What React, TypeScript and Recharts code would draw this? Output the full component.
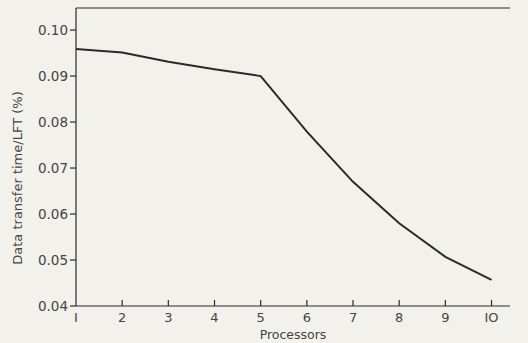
import { LineChart, Line, XAxis, YAxis, ReferenceLine } from "recharts";

const processors = [1, 2, 3, 4, 5, 6, 7, 8, 9, 10];
const transferTime = [0.0959, 0.0951, 0.0931, 0.0915, 0.09, 0.0779, 0.067, 0.058, 0.0507, 0.0457];
const yTicks = [0.04, 0.05, 0.06, 0.07, 0.08, 0.09, 0.1];
const yTop = 0.1048;

const data = processors.map((p, i) => ({ p, v: transferTime[i] }));

const ink = "#2a2a2a";
const font = "'DejaVu Sans', sans-serif";

const XTick = (props: any) => {
  const { x, y, payload } = props;
  return (
    <g>
      {payload.value !== 1 && <line x1={x} x2={x} y1={y} y2={y - 6} stroke={ink} strokeWidth={1.2} />}
      <text x={x} y={y + 16} textAnchor="middle" fill="#444" fontSize={13} fontFamily={font}>
        {payload.value === 1 ? "I" : payload.value === 10 ? "IO" : payload.value}
      </text>
    </g>
  );
};

const YLabel = () => (
  <text
    x={22}
    y={178}
    transform="rotate(-90 22 178)"
    textAnchor="middle"
    fill="#444"
    fontSize={13}
    fontFamily={font}
  >
    Data transfer time/LFT (%)
  </text>
);

export default function App() {
  return (
    <div style={{ position: "absolute", left: 0, top: 0, width: 528, height: 343, background: "#f2f1ec" }}>
      <LineChart width={528} height={343} data={data} margin={{ top: 8, right: 18, bottom: 0, left: 0 }}>
        <XAxis
          dataKey="p"
          type="number"
          domain={[1, 10.4]}
          ticks={processors}
          height={37}
          tickSize={0}
          tickMargin={0}
          tickLine={false}
          tick={<XTick />}
          axisLine={{ stroke: ink, strokeWidth: 1.2 }}
          label={{ value: "Processors", position: "insideBottom", offset: 4, fill: "#444", fontSize: 12.5, fontFamily: font }}
        />
        <YAxis
          type="number"
          domain={[0.04, yTop]}
          ticks={yTicks}
          width={76}
          tickSize={6}
          tickMargin={2}
          tickFormatter={(v: number) => v.toFixed(2)}
          tick={{ fill: "#444", fontSize: 13.5, fontFamily: font }}
          tickLine={{ stroke: ink, strokeWidth: 1.2 }}
          axisLine={{ stroke: ink, strokeWidth: 1.2 }}
          label={<YLabel />}
        />
        <ReferenceLine y={yTop} stroke={ink} strokeWidth={1.2} />
        <Line
          dataKey="v"
          type="linear"
          stroke={ink}
          strokeWidth={2}
          dot={false}
          isAnimationActive={false}
        />
      </LineChart>
    </div>
  );
}
